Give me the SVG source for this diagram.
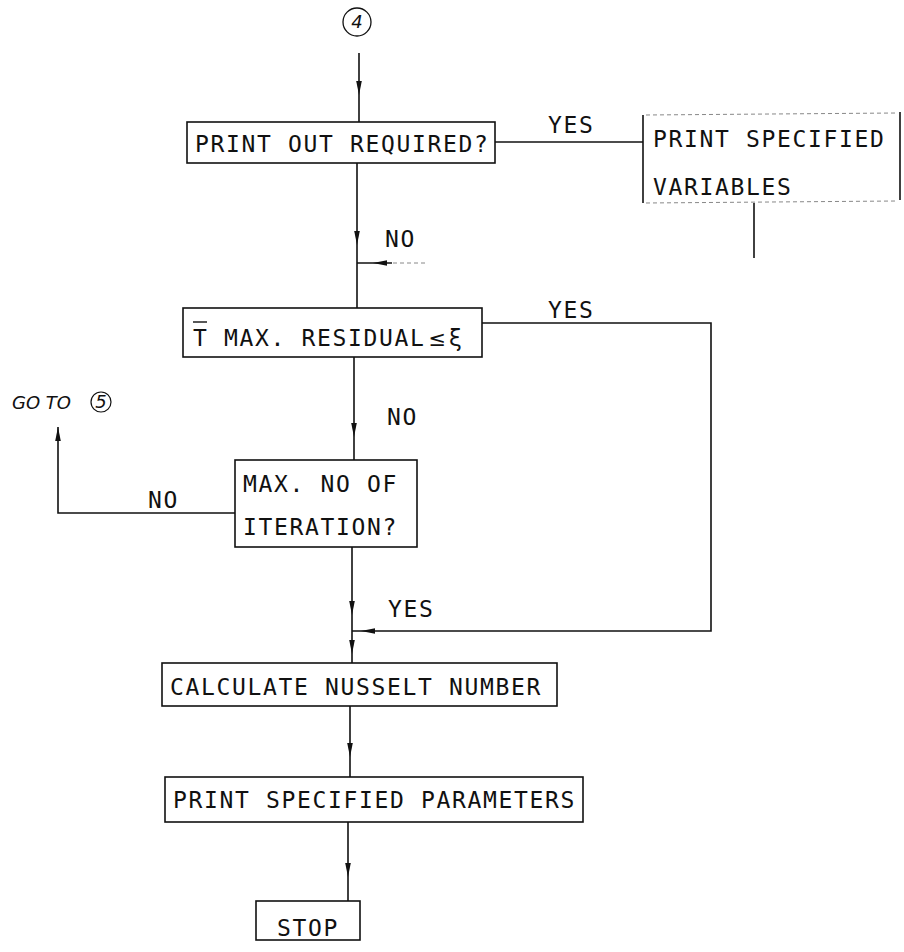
<svg xmlns="http://www.w3.org/2000/svg" xmlns:xlink="http://www.w3.org/1999/xlink" width="904" height="952" viewBox="0 0 904 952">
<style>
  .box { fill: none; stroke: #111; stroke-width: 1.6; }
  .faint { fill: none; stroke: #888; stroke-width: 1; stroke-dasharray: 4 3; }
  .ln { fill: none; stroke: #111; stroke-width: 1.6; }
  .t { font-family: "DejaVu Sans Mono", "Liberation Mono", monospace; font-size: 23px; letter-spacing: 1.65px; fill: #111; }
  .hw { font-family: "DejaVu Sans", "Liberation Sans", sans-serif; font-style: italic; font-size: 18px; fill: #111; }
</style>
<defs>
  <polygon id="ah" points="0,7 -2.8,-7 2.8,-7" fill="#111"/>
</defs>

<g id="connectors">
  <path class="ln" d="M359 53 L359 122"/>
  <use xlink:href="#ah" transform="translate(359,88)"/>
  <path class="ln" d="M357 163 L357 308"/>
  <use xlink:href="#ah" transform="translate(357,238)"/>
  <path class="ln" d="M495 142 L643 142"/>
  <path class="ln" d="M754 203 L754 258"/>
  <path class="ln" d="M392 263 L357 263"/>
  <path class="faint" d="M425 263 L392 263"/>
  <use xlink:href="#ah" transform="translate(380,263) rotate(90)"/>
  <path class="ln" d="M354 357 L354 460"/>
  <use xlink:href="#ah" transform="translate(354,430)"/>
  <path class="ln" d="M482 323 L711 323 L711 631 L352 631"/>
  <use xlink:href="#ah" transform="translate(368,631) rotate(90)"/>
  <path class="ln" d="M352 547 L352 663"/>
  <use xlink:href="#ah" transform="translate(352,608)"/>
  <use xlink:href="#ah" transform="translate(352,647)"/>
  <path class="ln" d="M235 513 L58 513 L58 427"/>
  <use xlink:href="#ah" transform="translate(58,434) rotate(180)"/>
  <path class="ln" d="M350 706 L350 777"/>
  <use xlink:href="#ah" transform="translate(350,750)"/>
  <path class="ln" d="M348 822 L348 901"/>
  <use xlink:href="#ah" transform="translate(348,870)"/>
  <text class="t" x="548" y="133">YES</text>
  <text class="t" x="385" y="247">NO</text>
  <text class="t" x="548" y="318">YES</text>
  <text class="t" x="387" y="425">NO</text>
  <text class="t" x="148" y="508">NO</text>
  <text class="t" x="388" y="617">YES</text>
</g>

<g id="start4">
  <circle cx="357" cy="22" r="14" fill="none" stroke="#111" stroke-width="1.3"/>
  <text class="hw" x="357" y="28" text-anchor="middle">4</text>
</g>

<g id="goto5">
  <text class="hw" x="12" y="409">GO TO</text>
  <circle cx="101" cy="402" r="10" fill="none" stroke="#111" stroke-width="1.2"/>
  <text class="hw" x="101" y="408" text-anchor="middle" font-size="14">5</text>
</g>

<g id="print-out-required">
  <rect class="box" x="187" y="122" width="308" height="41"/>
  <text class="t" x="195" y="152">PRINT OUT REQUIRED?</text>
</g>

<g id="print-specified-variables">
  <path class="box" d="M643 115 L643 203"/>
  <path class="box" d="M900 112 L900 200"/>
  <path class="faint" d="M646 115 L897 113"/>
  <path class="faint" d="M646 203 L897 201"/>
  <text class="t" x="653" y="147">PRINT SPECIFIED</text>
  <text class="t" x="653" y="195">VARIABLES</text>
</g>

<g id="max-residual">
  <rect class="box" x="183" y="308" width="299" height="49"/>
  <line x1="193" y1="322" x2="207" y2="322" stroke="#111" stroke-width="1.4"/>
  <text class="t" x="193" y="346">T MAX. RESIDUAL<tspan font-family="DejaVu Sans, sans-serif" font-size="21" letter-spacing="0" dx="3">≤</tspan><tspan dx="3" font-family="DejaVu Sans, sans-serif" letter-spacing="0">ξ</tspan></text>
</g>

<g id="max-iterations">
  <rect class="box" x="235" y="460" width="182" height="87"/>
  <text class="t" x="243" y="492">MAX. NO OF</text>
  <text class="t" x="243" y="535">ITERATION?</text>
</g>

<g id="calc-nusselt">
  <rect class="box" x="162" y="663" width="395" height="43"/>
  <text class="t" x="170" y="695">CALCULATE NUSSELT NUMBER</text>
</g>

<g id="print-parameters">
  <rect class="box" x="165" y="777" width="418" height="45"/>
  <text class="t" x="173" y="808">PRINT SPECIFIED PARAMETERS</text>
</g>

<g id="stop">
  <rect class="box" x="256" y="901" width="104" height="39"/>
  <text class="t" x="277" y="936">STOP</text>
</g>
</svg>
